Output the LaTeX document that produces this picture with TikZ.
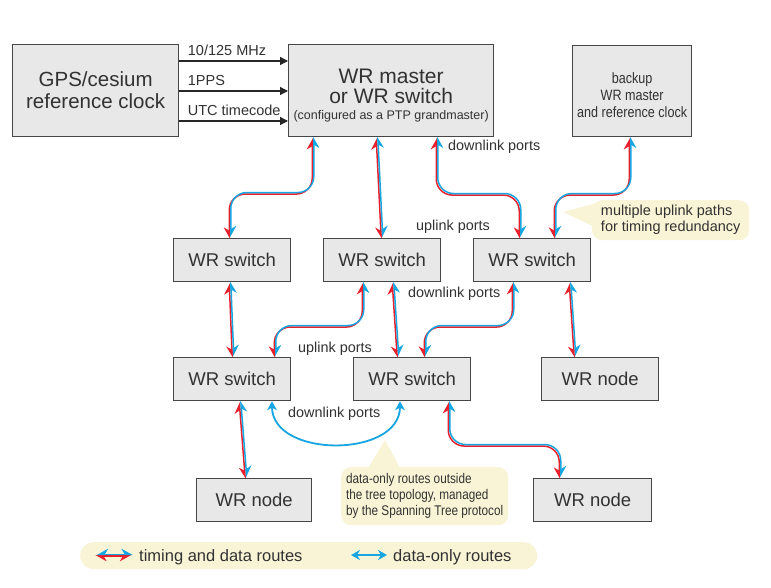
\documentclass[tikz,border=0pt]{standalone}
\usepackage{fontspec}
\setmainfont{Liberation Sans}
\newfontfamily\condfont{Liberation Sans}[FakeStretch=0.84]
\usetikzlibrary{arrows.meta}

\definecolor{wrred}{RGB}{232,32,44}
\definecolor{wrblue}{RGB}{22,166,226}
\definecolor{boxgray}{RGB}{232,232,232}
\definecolor{edgegray}{RGB}{70,70,70}
\definecolor{textgray}{RGB}{50,50,50}
\definecolor{notefill}{RGB}{250,244,214}

\tikzset{
  box/.style={draw=edgegray, fill=boxgray, line width=1.3pt, text=textgray, inner sep=0pt, anchor=north west, align=center},
  wrswitch/.style={box, minimum width=117pt, minimum height=43pt, font=\fontsize{18.5}{20}\selectfont},
  port/.style={text=textgray, font=\fontsize{14.4}{16}\selectfont, anchor=base west, inner sep=0pt},
  feed/.style={draw=black!85, line width=1.2pt, -{Triangle[length=8pt,width=8pt]}},
  tdred/.style={draw=wrred, line width=1.5pt, rounded corners=16pt, transform canvas={xshift=-0.75pt,yshift=-0.75pt},
    arrows={{Stealth[length=10pt,width=11pt,harpoon]}-{Stealth[length=10pt,width=11pt,harpoon,swap]}}},
  tdblue/.style={draw=wrblue, line width=1.5pt, rounded corners=16pt, transform canvas={xshift=0.75pt,yshift=0.75pt},
    arrows={{Stealth[length=10pt,width=11pt,harpoon,swap]}-{Stealth[length=10pt,width=11pt,harpoon]}}},
  dataonly/.style={draw=wrblue, line width=1.8pt, arrows={{Stealth[length=9pt,width=10pt]}-{Stealth[length=9pt,width=10pt]}}},
  note/.style={fill=notefill, draw=none, rounded corners=10pt, text=textgray, inner sep=0pt, align=left, anchor=north west}
}
% timing and data route: red and blue side by side
\newcommand\tdroute[1]{\draw[tdred] #1; \draw[tdblue] #1;}

\begin{document}
\begin{tikzpicture}[x=1pt,y=-1pt]
\useasboundingbox (0,0) rectangle (771,588);
\fill[white] (0,0) rectangle (771,588);

% top row
\node[box, minimum width=166pt, minimum height=92pt, font=\fontsize{20.5}{22}\selectfont] (gps) at (12,44) {GPS/cesium\\reference clock};
\node[box, minimum width=205pt, minimum height=92pt, font=\fontsize{21}{20}\selectfont] (master) at (288,44)
  {\rule{0pt}{25pt}WR master\\or WR switch\\[-4pt]{\fontsize{12.5}{14}\selectfont (configured as a PTP grandmaster)}};
\node[box, minimum width=119pt, minimum height=91pt, font=\condfont\fontsize{15}{17}\selectfont] (backup) at (572,45)
  {\rule{0pt}{19pt}backup\\WR master\\and reference clock};

\draw[feed] ([yshift=-17pt]gps.north east) -- node[pos=0, anchor=base west, xshift=8pt, yshift=5pt, inner sep=0pt, text=textgray, font=\fontsize{14.5}{16}\selectfont] {10/125 MHz} ([yshift=-17pt]master.north west);
\draw[feed] ([yshift=-47pt]gps.north east) -- node[pos=0, anchor=base west, xshift=8pt, yshift=5pt, inner sep=0pt, text=textgray, font=\fontsize{14.5}{16}\selectfont] {1PPS} ([yshift=-47pt]master.north west);
\draw[feed] ([yshift=-77pt]gps.north east) -- node[pos=0, anchor=base west, xshift=8pt, yshift=5pt, inner sep=0pt, text=textgray, font=\fontsize{14.5}{16}\selectfont] {UTC timecode} ([yshift=-77pt]master.north west);

% switches and nodes
\node[wrswitch] (sw1) at (173,238) {WR switch};
\node[wrswitch] (sw2) at (323,238) {WR switch};
\node[wrswitch] (sw3) at (473,238) {WR switch};
\node[wrswitch] (sw4) at (173,357) {WR switch};
\node[wrswitch] (sw5) at (353,357) {WR switch};
\node[wrswitch] (nd1) at (541,357) {WR node};
\node[wrswitch, minimum width=115pt] (nd2) at (196,478) {WR node};
\node[wrswitch, minimum width=118pt] (nd3) at (533,478) {WR node};

% callouts
\fill[notefill] (563,212) -- (597,203) -- (597,228) -- cycle;
\node[note, minimum width=157pt, minimum height=40pt, font=\fontsize{14.5}{16}\selectfont] (redund) at (592,200)
  {multiple uplink paths\\for timing redundancy};
\fill[notefill] (385,440) -- (367,470) -- (401,470) -- cycle;
\node[note, minimum width=167pt, minimum height=58pt, font=\condfont\fontsize{14}{16}\selectfont] (stp) at (341,467)
  {data-only routes outside\\the tree topology, managed\\by the Spanning Tree protocol};

% routes
\tdroute{([xshift=25pt]master.south west) -- ++(0,56) -| ([xshift=57pt]sw1.north west)}
\tdroute{([xshift=89pt]master.south west) -- ([xshift=59pt]sw2.north west)}
\tdroute{([xshift=149pt]master.south west) -- ++(0,57) -| ([xshift=47pt]sw3.north west)}
\tdroute{([xshift=58pt]backup.south west) -- ++(0,57) -| ([xshift=82pt]sw3.north west)}
\tdroute{([xshift=57pt]sw1.south west) -- ([xshift=60pt]sw4.north west)}
\tdroute{([xshift=40pt]sw2.south west) -- ++(0,44) -| ([xshift=102pt]sw4.north west)}
\tdroute{([xshift=70pt]sw2.south west) -- ([xshift=45pt]sw5.north west)}
\tdroute{([xshift=40pt]sw3.south west) -- ++(0,44) -| ([xshift=72pt]sw5.north west)}
\tdroute{([xshift=97pt]sw3.south west) -- ([xshift=34pt]nd1.north west)}
\tdroute{([xshift=67pt]sw4.south west) -- ([xshift=50pt]nd2.north west)}
\tdroute{([xshift=96pt]sw5.south west) -- ++(0,44) -| ([xshift=27pt]nd3.north west)}
\draw[dataonly] ([xshift=99pt]sw4.south west) .. controls +(0,57) and +(0,57) .. ([xshift=47pt]sw5.south west);

% port labels
\node[port] (dl1) at (448,151) {downlink ports};
\node[port] (ul1) at (416,231) {uplink ports};
\node[port] (dl2) at (408,297) {downlink ports};
\node[port] (ul2) at (298,352) {uplink ports};
\node[port] (dl3) at (288,417) {downlink ports};

% legend
\node[note, rounded corners=13.5pt, minimum width=457pt, minimum height=27pt] (legend) at (80,542) {};
\coordinate (k1a) at (96,555);
\coordinate (k1b) at (132,555);
\coordinate (k2a) at (351,555);
\coordinate (k2b) at (387,555);
\tdroute{(k1a) -- (k1b)}
\draw[dataonly] (k2a) -- (k2b);
\node[port, font=\fontsize{16.5}{18}\selectfont] (t1) at (139,561) {timing and data routes};
\node[port, font=\fontsize{16.5}{18}\selectfont] (t2) at (393,561) {data-only routes};
\end{tikzpicture}
\end{document}
